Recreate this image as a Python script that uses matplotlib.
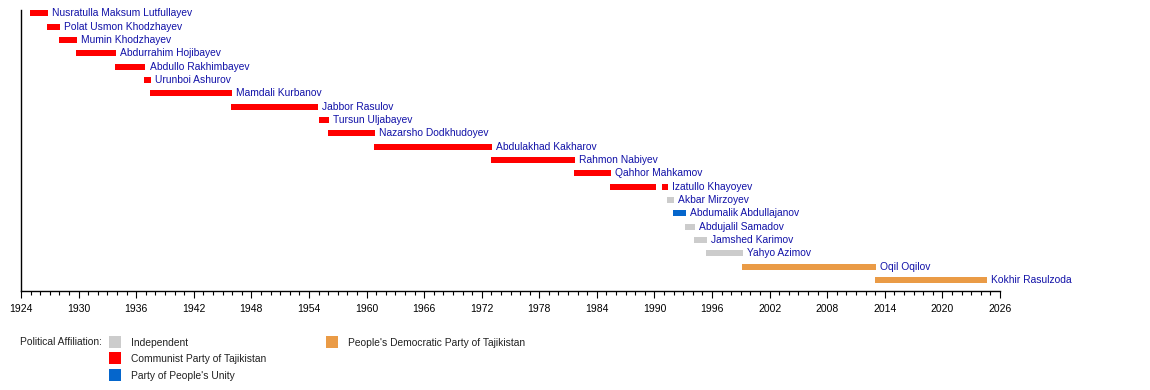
#!/usr/bin/env python3
"""
Heads of government of Tajikistan - timeline chart
"""

import matplotlib
matplotlib.use("Agg")
import matplotlib.pyplot as plt
from matplotlib.patches import Rectangle
from matplotlib.ticker import FixedLocator

plt.rcParams['font.family'] = ['Liberation Sans', 'DejaVu Sans']

# One name per row, top to bottom
names = [
    "Nusratulla Maksum Lutfullayev", "Polat Usmon Khodzhayev", "Mumin Khodzhayev",
    "Abdurrahim Hojibayev", "Abdullo Rakhimbayev", "Urunboi Ashurov",
    "Mamdali Kurbanov", "Jabbor Rasulov", "Tursun Uljabayev",
    "Nazarsho Dodkhudoyev", "Abdulakhad Kakharov", "Rahmon Nabiyev",
    "Qahhor Mahkamov", "Izatullo Khayoyev", "Akbar Mirzoyev",
    "Abdumalik Abdullajanov", "Abdujalil Samadov", "Jamshed Karimov",
    "Yahyo Azimov", "Oqil Oqilov", "Kokhir Rasulzoda",
]

# Terms (a row can have more than one)
term_row = [0, 1, 2, 3, 4, 5, 6, 7, 8, 9, 10, 11, 12, 13, 13, 14, 15, 16, 17, 18, 19, 20]
term_start = [1924.9, 1926.7, 1928.0, 1929.75, 1933.8, 1936.85, 1937.45, 1945.9, 1955.0,
              1956.0, 1960.8, 1973.0, 1981.65, 1985.4, 1990.8, 1991.3, 1991.95,
              1993.2, 1994.15, 1995.4, 1999.15, 2013.0]
term_end = [1926.8, 1928.05, 1929.8, 1933.9, 1936.95, 1937.55, 1945.95, 1954.95, 1956.1,
            1960.85, 1973.05, 1981.7, 1985.45, 1990.2, 1991.4, 1992.0, 1993.3,
            1994.2, 1995.45, 1999.2, 2013.05, 2024.6]
term_party = ["CPT"] * 15 + ["IND", "PPU", "IND", "IND", "IND", "PDPT", "PDPT"]

party_colors = {
    "IND": "#cccccc",
    "CPT": "#ff0000",
    "PPU": "#0566cc",
    "PDPT": "#ea9b46",
}
party_labels = {
    "IND": "Independent",
    "CPT": "Communist Party of Tajikistan",
    "PPU": "Party of People's Unity",
    "PDPT": "People's Democratic Party of Tajikistan",
}

year_min, year_max = 1924, 2026
major_years = list(range(year_min, year_max + 1, 6))
minor_years = list(range(year_min, year_max + 1))
label_color = "#1212a8"

fig = plt.figure(figsize=(11.5, 3.9), dpi=100)
ax = fig.add_axes([21 / 1150, 1 - 291 / 390, 979 / 1150, 281 / 390])

widths = [e - s for s, e in zip(term_start, term_end)]
colors = [party_colors[p] for p in term_party]
ax.barh(term_row, widths, left=term_start, height=0.45, color=colors, linewidth=0)

# name after the end of the last term in each row
for i, name in enumerate(names):
    last_end = max(e for r, e in zip(term_row, term_end) if r == i)
    ax.text(last_end + 0.45, i, name, va='center', ha='left', fontsize=7.4,
            color=label_color, clip_on=False)

ax.set_xlim(year_min, year_max)
ax.set_ylim(20.83, -0.25)
ax.xaxis.set_major_locator(FixedLocator(major_years))
ax.xaxis.set_minor_locator(FixedLocator(minor_years))
ax.tick_params(axis='x', which='major', length=5, width=0.8, labelsize=7.5, pad=4)
ax.tick_params(axis='x', which='minor', length=3, width=0.8)
ax.set_yticks([])
ax.spines['top'].set_visible(False)
ax.spines['right'].set_visible(False)
ax.spines['left'].set_linewidth(1)
ax.spines['bottom'].set_linewidth(1)

# legend drawn by hand to mimic the layout
def px(x, y):
    return x / 1150, 1 - y / 390

legend_text_color = "#222222"
fig.text(*px(20, 342), "Political Affiliation:", fontsize=7.4, va='center', ha='left',
         color=legend_text_color)
legend_slots = [("IND", 109, 336), ("CPT", 109, 352), ("PPU", 109, 369), ("PDPT", 326, 336)]
for key, x0, y0 in legend_slots:
    fx, fy = px(x0, y0 + 12)
    fig.patches.append(Rectangle((fx, fy), 12 / 1150, 12 / 390, transform=fig.transFigure,
                                 facecolor=party_colors[key], edgecolor='none'))
    fig.text(*px(x0 + 22, y0 + 7), party_labels[key], fontsize=7.4, va='center', ha='left',
             color=legend_text_color)

fig.savefig("out.png", dpi=100)
plt.close(fig)
